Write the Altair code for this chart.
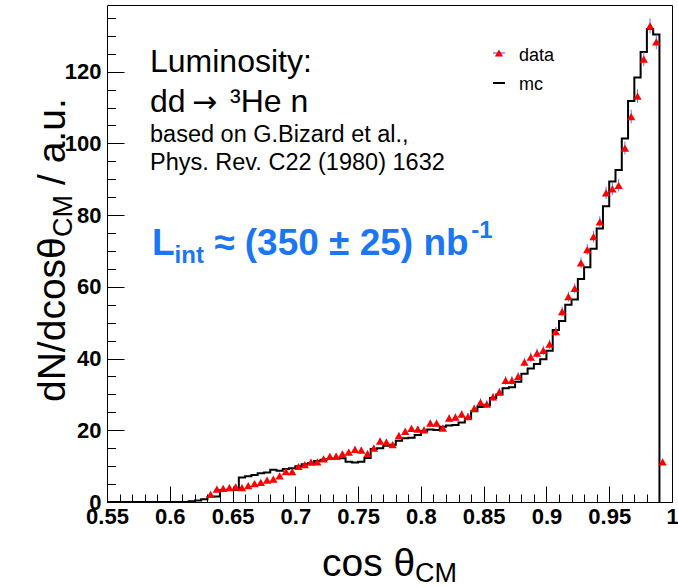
import altair as alt
import pandas as pd

# ---------------- data ----------------
BIN = 0.005
data_first_center = 0.6325
data_vals = [2.1, 3.6, 3.8, 4.0, 4.2, 4.0, 4.6, 5.1, 5.5, 6.1,
             6.4, 7.3, 8.5, 8.5, 9.9, 10.4, 11.1, 11.2, 12.0, 12.7,
             12.8, 13.4, 13.9, 14.7, 14.5, 13.5, 15.0, 17.0, 16.7, 16.0,
             18.5, 19.7, 20.5, 20.3, 20.1, 22.0, 22.0, 20.6, 23.4, 23.7,
             24.5, 23.8, 26.1, 27.8, 27.3, 29.3, 30.7, 33.9, 33.9, 35.0,
             39.0, 40.4, 41.5, 42.3, 44.0, 47.5, 53.1, 57.3, 59.6, 66.7,
             70.4, 74.0, 78.1, 86.2, 87.3, 88.3, 98.7, 107.5, 113.2, 123.5,
             132.8, 128.3, 11.2]
data_errs = [0.4, 0.5, 0.5, 0.5, 0.5, 0.5, 0.5, 0.6, 0.6, 0.6,
             0.6, 0.6, 0.7, 0.7, 0.7, 0.7, 0.7, 0.7, 0.7, 0.8,
             0.8, 0.8, 0.8, 0.8, 0.8, 0.8, 0.8, 0.9, 0.9, 0.8,
             0.9, 0.9, 0.9, 0.9, 0.9, 1.0, 1.0, 0.9, 1.0, 1.0,
             1.0, 1.0, 1.0, 1.1, 1.1, 1.1, 1.1, 1.2, 1.2, 1.2,
             1.2, 1.3, 1.3, 1.3, 1.3, 1.3, 1.4, 1.4, 1.4, 1.5,
             1.5, 1.6, 1.6, 1.7, 1.7, 1.7, 1.8, 1.9, 1.9, 2.0,
             2.1, 2.0, 0.7]

mc_first_edge = 0.600
mc_end_edge = 0.990
mc_vals = [0.0, 0.0, 0.0, 0.2, 0.4, 0.8, 1.4, 1.5, 3.3, 3.4,
           3.4, 6.8, 7.2, 7.5, 8.0, 8.2, 9.0, 8.7, 9.2, 9.4,
           10.0, 10.5, 10.8, 11.4, 11.8, 12.0, 12.1, 12.2, 11.2, 11.0,
           11.2, 12.3, 14.8, 15.0, 15.7, 16.0, 17.1, 17.8, 17.9, 18.7,
           19.7, 20.2, 20.1, 21.0, 21.3, 21.5, 22.2, 23.3, 25.3, 26.5,
           27.0, 29.0, 30.0, 31.7, 32.0, 33.5, 35.8, 37.2, 38.5, 39.8,
           42.2, 48.0, 50.5, 55.0, 56.5, 62.2, 65.5, 70.6, 76.3, 82.5,
           89.4, 92.6, 101.4, 111.8, 118.4, 125.5, 131.9, 130.4]

x_domain = [0.55, 1.0]
y_domain = [0, 138.6]
x_major = [0.55, 0.6, 0.65, 0.7, 0.75, 0.8, 0.85, 0.9, 0.95, 1.0]
x_minor = [0.56, 0.57, 0.58, 0.59, 0.61, 0.62, 0.63, 0.64, 0.66, 0.67,
           0.68, 0.69, 0.71, 0.72, 0.73, 0.74, 0.76, 0.77, 0.78, 0.79,
           0.81, 0.82, 0.83, 0.84, 0.86, 0.87, 0.88, 0.89, 0.91, 0.92,
           0.93, 0.94, 0.96, 0.97, 0.98, 0.99]
y_major = [0, 20, 40, 60, 80, 100, 120]
y_minor = [5, 10, 15, 25, 30, 35, 45, 50, 55, 65, 70, 75, 85, 90, 95,
           105, 110, 115, 125, 130, 135]

# ---------------- tables ----------------
df_data = pd.DataFrame({
    "x": [round(data_first_center + i * BIN, 4) for i in range(len(data_vals))],
    "y": data_vals,
    "err": data_errs,
})
df_data["lo"] = df_data["y"] - df_data["err"]
df_data["hi"] = df_data["y"] + df_data["err"]

mc_edges = [x_domain[0]] + [round(mc_first_edge + i * BIN, 4) for i in range(len(mc_vals))] + [mc_end_edge]
mc_heights = [0.0] + mc_vals + [0.0]
df_mc = pd.DataFrame({"x": mc_edges, "y": mc_heights})

W, H = 565, 497
FONT = "Liberation Sans"
BLUE_TXT = "#1a76f2"
TRI_SIZE = 70

xs = alt.Scale(domain=x_domain, nice=False, zero=False)
ys = alt.Scale(domain=y_domain, nice=False, zero=False)

lab = dict(labelFont=FONT, labelFontSize=22, labelFontWeight="bold", labelColor="black",
           tickColor="black", tickWidth=1, domain=False, grid=False, title=None, labelFlush=False)

mc_line = alt.Chart(df_mc).mark_line(interpolate="step-after", color="black", strokeWidth=2).encode(
    x=alt.X("x:Q", scale=xs, axis=alt.Axis(values=x_major, format="~g", tickSize=16, offset=-16,
                                          labelPadding=4, orient="bottom", **lab)),
    y=alt.Y("y:Q", scale=ys, axis=alt.Axis(values=y_major, format="d", tickSize=17, offset=-17,
                                          labelPadding=6, orient="left", **lab)),
)

err = alt.Chart(df_data).mark_rule(color="#6a6aff", strokeWidth=1).encode(
    x=alt.X("x:Q", scale=xs, axis=alt.Axis(values=x_minor, labels=False, tickSize=8, offset=-8,
                                          orient="bottom", domain=False, grid=False, title=None,
                                          tickColor="black", tickWidth=1)),
    y=alt.Y("lo:Q", scale=ys, axis=alt.Axis(values=y_minor, labels=False, tickSize=8.5, offset=-8.5,
                                           orient="left", domain=False, grid=False, title=None,
                                           tickColor="black", tickWidth=1)),
    y2="hi:Q",
)

pts = alt.Chart(df_data).mark_point(shape="triangle-up", filled=True, color="#ff0000",
                                    size=TRI_SIZE, opacity=1).encode(
    x=alt.X("x:Q", scale=xs, axis=None),
    y=alt.Y("y:Q", scale=ys, axis=None),
)

def txt(s, x, y, size, weight="normal", color="black", angle=0, font=FONT):
    return alt.Chart(pd.DataFrame({"t": [s]})).mark_text(
        align="left", baseline="alphabetic", font=font, fontSize=size, fontWeight=weight,
        color=color, angle=angle,
    ).encode(x=alt.value(x), y=alt.value(y), text="t:N")

# text annotations (plot-area pixel offsets)
ann = [
    txt("Luminosity:", 43, 67, 32),
    txt("dd", 43, 107, 32),
    txt("→", 85, 107, 30, font="DejaVu Sans"),
    txt("³He n", 123, 107, 32),
    txt("based on G.Bizard et al.,", 43, 137, 23.5),
    txt("Phys. Rev. C22 (1980) 1632", 43, 165, 23.5),
    txt("L", 45, 250, 37, "bold", BLUE_TXT),
    txt("int", 67.6, 258, 24, "bold", BLUE_TXT),
    txt("≈ (350 ± 25) nb", 107.2, 250, 37, "bold", BLUE_TXT),
    txt("-1", 364.3, 233, 24, "bold", BLUE_TXT),
    # axis titles
    txt("cos θ", 215, 571, 39),
    txt("CM", 308, 577, 27),
    txt("dN/dcosθ", -42, 397, 39, angle=270),
    txt("CM", -35, 232, 27, angle=270),
    txt("/ a.u.", -42, 180, 39, angle=270),
    # legend
    txt("data", 412, 56, 18),
    txt("mc", 412, 85, 18),
]

leg_data_line = alt.Chart(pd.DataFrame({"k": [0]})).mark_rule(color="#7f7fff", strokeWidth=1.5).encode(
    x=alt.value(386), x2=alt.value(398), y=alt.value(48))
leg_data_pt = alt.Chart(pd.DataFrame({"k": [0]})).mark_point(
    shape="triangle-up", filled=True, color="#ff0000", size=TRI_SIZE, opacity=1).encode(
    x=alt.value(392), y=alt.value(48))
leg_mc_line = alt.Chart(pd.DataFrame({"k": [0]})).mark_rule(color="black", strokeWidth=2).encode(
    x=alt.value(386), x2=alt.value(398), y=alt.value(78))

chart = alt.layer(mc_line, err, pts, leg_data_line, leg_data_pt, leg_mc_line, *ann).resolve_axis(
    x="independent", y="independent"
).properties(
    width=W, height=H,
    autosize=alt.AutoSizeParams(type="none"),
    padding={"left": 107, "top": 5, "right": 6, "bottom": 85},
    background="white",
).configure_view(stroke="black", strokeWidth=1)

chart.save("out.html", embed_options={"renderer": "svg", "actions": False})
